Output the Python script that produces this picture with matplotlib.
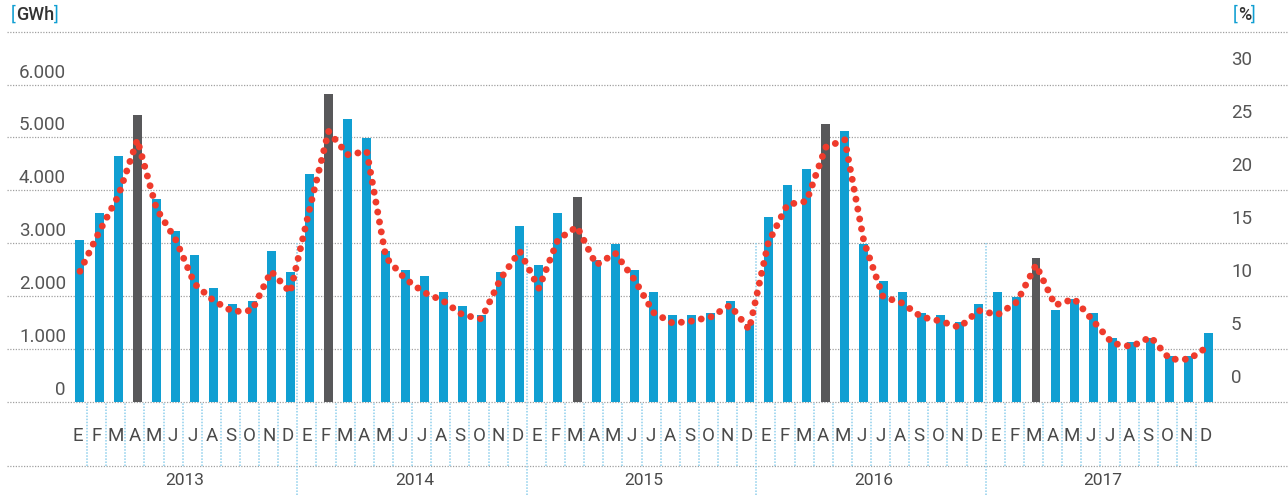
import matplotlib
matplotlib.use('Agg')
import matplotlib.pyplot as plt
import matplotlib.transforms as mtransforms

plt.rcParams['font.family'] = ['Roboto', 'DejaVu Sans']

# monthly values 2013-2017
years = ['2013', '2014', '2015', '2016', '2017']
months = ['E', 'F', 'M', 'A', 'M', 'J', 'J', 'A', 'S', 'O', 'N', 'D']
gwh = [3060, 3580, 4650, 5420, 3840, 3240, 2770, 2150, 1850, 1910, 2850, 2460,
       4310, 5820, 5350, 4990, 2850, 2490, 2380, 2080, 1820, 1650, 2460, 3330,
       2590, 3570, 3880, 2680, 2990, 2490, 2080, 1650, 1650, 1680, 1910, 1470,
       3500, 4100, 4400, 5250, 5120, 2990, 2290, 2080, 1680, 1650, 1510, 1850,
       2080, 1990, 2720, 1740, 1950, 1680, 1210, 1130, 1210, 870, 870, 1300]
pct = [11.2, 14.9, 18.3, 23.6, 17.1, 14.2, 10.0, 8.4, 7.4, 7.5, 11.2, 9.2,
       17.0, 24.4, 22.2, 22.5, 12.5, 10.5, 9.2, 8.4, 7.1, 6.7, 10.5, 13.1,
       9.6, 14.2, 15.4, 11.8, 12.9, 10.4, 7.3, 6.3, 6.5, 6.9, 8.0, 5.7,
       13.9, 17.5, 17.8, 22.9, 23.6, 14.0, 8.8, 8.2, 6.9, 6.5, 5.9, 7.5,
       7.1, 8.3, 11.8, 8.0, 8.6, 6.5, 4.4, 4.1, 5.0, 2.9, 2.9, 4.1]
gwh_ticks = [0, 1000, 2000, 3000, 4000, 5000, 6000]
gwh_ticklabels = ['0', '1.000', '2.000', '3.000', '4.000', '5.000', '6.000']
pct_ticks = [0, 5, 10, 15, 20, 25, 30]

blue = '#109fd2'
dark = '#58585a'
red = '#ef3b2c'
sep_col = '#8fd0ec'
grid_col = '#a0a0a0'
txt_col = '#555555'

W, H = 1288, 495
fig = plt.figure(figsize=[W / 100, H / 100], dpi=100)
ax = fig.add_axes([0, 0, 1, 1])
ax.set_xlim(-4.053, 63.31)
ax.set_ylim(-1758, 7599)
ax.axis('off')

ax2 = ax.twinx()
ax2.set_ylim((-1758 - 226.8) / 200.4, (7599 - 226.8) / 200.4)
ax2.axis('off')

n = len(gwh)
x = list(range(n))
xb = [i + 0.13 for i in x]

# darker bar marks the peak month of each year
peaks = set()
for y in range(len(years)):
    chunk = gwh[y * 12:(y + 1) * 12]
    peaks.add(y * 12 + chunk.index(max(chunk)))
colors = [dark if i in peaks else blue for i in x]

# dotted grid
for v in range(0, 8000, 1000):
    ax.axhline(v, xmin=7 / W, xmax=1, color=grid_col, lw=0.9,
               linestyle=(0, (1, 1.2)), zorder=0)
ax.axhline(-1210, xmin=7 / W, xmax=1, color=grid_col, lw=0.9,
           linestyle=(0, (1, 1.2)), zorder=0)

ax.bar(xb, gwh, width=0.47, color=colors, zorder=2)

# month cell separators and year separators
for i in range(n - 1):
    if (i + 1) % 12 == 0:
        ax.vlines(i + 0.5, -1758, 3000, color=sep_col, lw=1.1,
                  linestyle=(0, (1, 1)), zorder=1)
    else:
        ax.vlines(i + 0.5, -1210, 0, color=sep_col, lw=1.1,
                  linestyle=(0, (1, 1)), zorder=1)

for i in x:
    ax.text(i, -643, months[i % 12], ha='center', va='center',
            fontsize=13.5, color='#4a4a4a')
for k, yr in enumerate(years):
    ax.text(k * 12 + 5.63, -1493, yr, ha='center', va='center',
            fontsize=12.5, color='#4a4a4a')

ax2.plot(xb, pct, color=red, lw=5, linestyle=(0, (0.001, 1.45)),
         dash_capstyle='round', zorder=3)

# axis labels sit slightly above their gridlines
lab_l = mtransforms.offset_copy(ax.get_yaxis_transform(), fig=fig, y=12, units='dots')
for v, s in zip(gwh_ticks, gwh_ticklabels):
    ax.text(66 / W, v, s, transform=lab_l, ha='right', va='center',
            fontsize=13.5, color=txt_col)
lab_r = mtransforms.offset_copy(ax2.get_yaxis_transform(), fig=fig, y=12, units='dots')
for p in pct_ticks:
    ax2.text(1231 / W, p, str(p), transform=lab_r, ha='left', va='center',
             fontsize=13.5, color=txt_col)

# unit captions with blue brackets
def unit_label(xpix, s):
    t = fig.text(xpix / W, 1 - 15 / H, '[', color=blue, fontsize=13,
                 va='center', ha='left')
    fig.canvas.draw()
    bb = t.get_window_extent()
    t2 = fig.text(bb.x1 / W, 1 - 15 / H, s, color='#333333', fontsize=13,
                  fontweight='medium', va='center', ha='left')
    fig.canvas.draw()
    bb2 = t2.get_window_extent()
    fig.text(bb2.x1 / W, 1 - 15 / H, ']', color=blue, fontsize=13,
             va='center', ha='left')

unit_label(11, 'GWh')
unit_label(1233, '%')

fig.savefig('out.png', dpi=100)
